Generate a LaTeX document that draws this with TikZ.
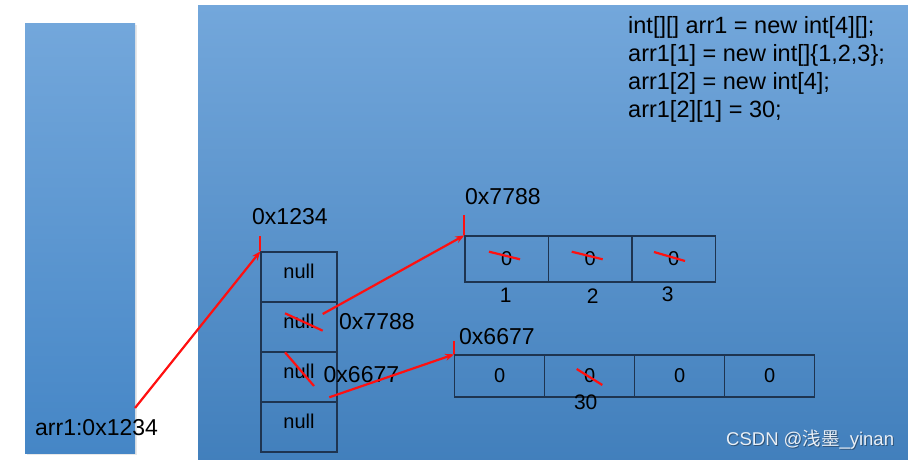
\documentclass[tikz,border=0pt]{standalone}
\usepackage{fontspec}
\setmainfont{Liberation Sans}
\newfontfamily\cjk{Noto Sans CJK SC}
\usetikzlibrary{arrows.meta}
\definecolor{panelTop}{HTML}{73A7DB}
\definecolor{panelBot}{HTML}{4586C6}
\definecolor{cellLine}{HTML}{1E3450}
\definecolor{ptr}{HTML}{FF1010}
\definecolor{wm}{HTML}{E9EFF6}
\definecolor{wmshadow}{HTML}{2F5479}
\begin{document}
\begin{tikzpicture}[x=1pt,y=-1pt,
  cellbase/.style={draw=cellLine, line width=1.3pt, inner sep=0pt, font=\fontsize{20}{24}\selectfont},
  stackcell/.style={cellbase, minimum width=76pt, minimum height=50pt, text height=14pt, text depth=12pt},
  topcell/.style={cellbase, minimum width=83.5pt, minimum height=46pt},
  botcell/.style={cellbase, minimum width=90pt, minimum height=42pt},
  addr/.style={anchor=west, inner sep=0pt, font=\fontsize{23}{27}\selectfont},
  idx/.style={inner sep=0pt, font=\fontsize{21}{25}\selectfont},
  ptrline/.style={draw=ptr, line width=2.2pt},
  ptrarrow/.style={ptrline, -{Stealth[length=9pt,width=7pt]}},
  strike/.style={draw=ptr, line width=2.2pt},
  tick/.style={draw=ptr, line width=2.2pt}
]
\useasboundingbox (0,0) rectangle (908,460);
\fill[white] (0,0) rectangle (908,460);
% panels
\fill[gray!18] (26.5,25.5) rectangle (137,455);
\shade[top color=panelTop, bottom color=panelBot] (25,24) rectangle (135,453);
\shade[top color=panelTop, bottom color=panelBot!95!black] (198,6) rectangle (908,460);

% code
\node[anchor=north west, inner sep=0pt, align=left, font=\fontsize{23.5}{28}\selectfont] (code) at (628,16)
  {int[][] arr1 = new int[4][];\\arr1[1] = new int[]\{1,2,3\};\\arr1[2] = new int[4];\\arr1[2][1] = 30;};

% stack variable
\node[addr] (arr1) at (35,428) {arr1:0x1234};
\coordinate (arr1ptr) at (135,408);

% outer array
\node[stackcell] (n0) at (299,277) {null};
\node[stackcell] (n1) at (299,327) {null};
\node[stackcell] (n2) at (299,377) {null};
\node[stackcell] (n3) at (299,427) {null};
\node[addr] (l1234) at (252,216.5) {0x1234};
\node[addr] (r7788) at (339,321.5) {0x7788};
\node[addr] (r6677) at (323.5,375) {0x6677};
\coordinate (p1) at (322.7,314);
\coordinate (p2) at (329.3,397.3);

% array {1,2,3}
\node[topcell] (a0) at (506.75,259) {0};
\node[topcell] (a1) at (590.25,259) {0};
\node[topcell] (a2) at (673.75,259) {0};
\node[addr] (l7788) at (465,196.5) {0x7788};
\node[idx] (i1) at (505.7,295) {1};
\node[idx] (i2) at (592.7,296) {2};
\node[idx] (i3) at (667.7,294) {3};

% array int[4]
\node[botcell] (b0) at (499.75,376) {0};
\node[botcell] (b1) at (589.75,376) {0};
\node[botcell] (b2) at (679.75,376) {0};
\node[botcell] (b3) at (769.75,376) {0};
\node[addr] (l6677) at (459,336.5) {0x6677};
\node[idx] (v30) at (585.7,402.5) {30};

% ticks at addresses
\draw[tick] (n0.north west) -- ++(0,-15);
\draw[tick] (a0.north west) -- ++(0,-20);
\draw[tick] (b0.north west) -- ++(0,-13);

% pointers
\draw[ptrarrow] (arr1ptr) -- (n0.north west);
\draw[ptrarrow] (p1) -- (a0.north west);
\draw[ptrarrow] (p2) -- (b0.north west);

% strikes
\draw[strike] (285,313.3) -- (322.7,330.7);
\draw[strike] (285,352.3) -- (314,386);
\draw[strike] (489,251.7) -- (520,259.3);
\draw[strike] (571.7,251.7) -- (602.7,259.3);
\draw[strike] (654,252) -- (685,261);
\draw[strike] (576.7,369) -- (602.3,385);

% watermark
\node[anchor=west, inner sep=0pt, text=wmshadow, font=\fontsize{18.5}{22}\selectfont] (wms) at (727,441) {CSDN @{\cjk 浅墨}\_yinan};
\node[anchor=west, inner sep=0pt, text=wm, font=\fontsize{18.5}{22}\selectfont] (wmk) at (726,440) {CSDN @{\cjk 浅墨}\_yinan};
\end{tikzpicture}
\end{document}
